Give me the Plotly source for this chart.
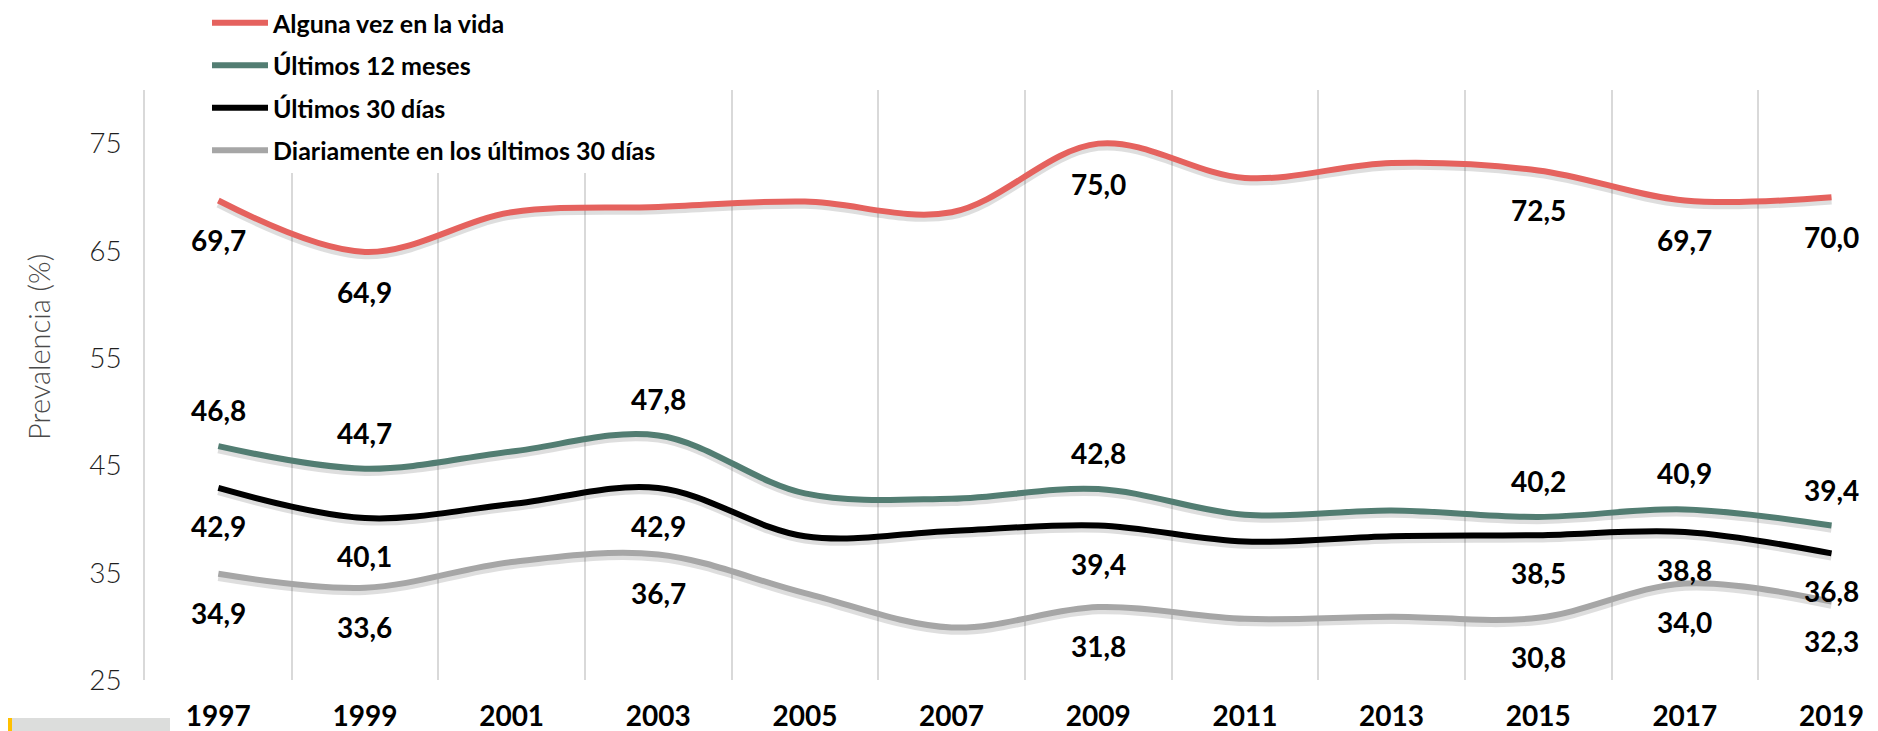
import plotly.graph_objects as go

years = ["1997", "1999", "2001", "2003", "2005", "2007", "2009", "2011", "2013", "2015", "2017", "2019"]
alguna_vez = [69.7, 64.9, 68.6, 69.1, 69.6, 68.6, 75.0, 71.8, 73.2, 72.5, 69.7, 70.0]
ultimos_12 = [46.8, 44.7, 46.3, 47.8, 42.4, 41.9, 42.8, 40.4, 40.8, 40.2, 40.9, 39.4]
ultimos_30 = [42.9, 40.1, 41.4, 42.9, 38.4, 38.9, 39.4, 37.9, 38.4, 38.5, 38.8, 36.8]
diario_30 = [34.9, 33.6, 36.0, 36.7, 33.1, 29.9, 31.8, 30.7, 30.9, 30.8, 34.0, 32.3]

series_names = ["Alguna vez en la vida", "Últimos 12 meses", "Últimos 30 días",
                "Diariamente en los últimos 30 días"]
series_values = [alguna_vez, ultimos_12, ultimos_30, diario_30]
series_colors = ["#E5625E", "#527D72", "#000000", "#A6A6A6"]
labeled_years = [
    ["1997", "1999", "2009", "2015", "2017", "2019"],
    ["1997", "1999", "2003", "2009", "2015", "2017", "2019"],
    ["1997", "1999", "2003", "2009", "2015", "2017", "2019"],
    ["1997", "1999", "2003", "2009", "2015", "2017", "2019"],
]
label_shift = [-40, 36, -38, -39]

FONT = "Lato, 'Open Sans', sans-serif"

# page body has an 8px margin: figure is sized so it fits the 1878x731 window
OFF = 8
W, H = 1878 - OFF, 731 - OFF
L, T = 145 - OFF, 90 - OFF
BOTTOM = 680 - OFF
B = H - BOTTOM
PW, PH = W - L, BOTTOM - T


def px_x(page_x):
    return (page_x - OFF - L) / PW


def px_y(page_y):
    return (BOTTOM - (page_y - OFF)) / PH


fig = go.Figure()

# soft shadows under lines
for vals in series_values:
    fig.add_trace(go.Scatter(
        x=years, y=[v - 0.3 for v in vals], mode="lines",
        line=dict(color="rgba(0,0,0,0.13)", width=8, shape="spline", smoothing=1),
        showlegend=False, hoverinfo="skip"))

for i, (name, vals, col) in enumerate(zip(series_names, series_values, series_colors)):
    fig.add_trace(go.Scatter(
        x=years, y=vals, mode="lines", name=name,
        line=dict(color=col, width=6, shape="spline", smoothing=1),
        legendgroup=f"g{i}"))

annotations = []
for vals, labs, dy in zip(series_values, labeled_years, label_shift):
    for yr in labs:
        idx = years.index(yr)
        v = vals[idx]
        annotations.append(dict(
            x=idx, y=v, xref="x", yref="y", text=f"{v:.1f}".replace(".", ","),
            showarrow=False, yshift=dy, xshift=0,
            font=dict(family=FONT, size=28, color="#000000", weight="bold")))

annotations.append(dict(
    x=px_x(38), y=px_y(347), xref="paper", yref="paper",
    xanchor="center", yanchor="middle",
    text="Prevalencia (%)", showarrow=False, textangle=-90,
    font=dict(family=FONT, size=29, color="#4A4A4A", weight=300)))

fig.update_layout(
    width=W, height=H,
    margin=dict(l=L, r=0, t=T, b=B, autoexpand=False),
    paper_bgcolor="white", plot_bgcolor="white",
    xaxis=dict(type="category", range=[-0.5, 11.317], tickson="boundaries",
               showgrid=True, gridcolor="#D9D9D9", gridwidth=1.5,
               ticks="", ticklabelstandoff=17,
               showline=False, zeroline=False,
               tickfont=dict(family=FONT, size=28, color="#000000", weight="bold")),
    yaxis=dict(range=[25, 80], tickvals=[25, 35, 45, 55, 65, 75],
               showgrid=False, zeroline=False,
               showline=True, linecolor="#D9D9D9", linewidth=1.5,
               ticks="outside", ticklen=16, tickcolor="rgba(0,0,0,0)",
               tickfont=dict(family=FONT, size=28, color="#1F1F1F", weight=300)),
    legend=dict(xref="paper", yref="paper", x=px_x(207), y=px_y(0),
                xanchor="left", yanchor="top", bgcolor="white",
                itemwidth=56, tracegroupgap=7, traceorder="grouped",
                font=dict(family=FONT, size=25, color="#000000", weight="bold")),
    showlegend=True,
    annotations=annotations,
    shapes=[
        dict(type="rect", xref="paper", yref="paper",
             x0=px_x(12), x1=px_x(170), y0=px_y(731), y1=px_y(718),
             fillcolor="#DCDDDC", line=dict(width=0), layer="above"),
        dict(type="rect", xref="paper", yref="paper",
             x0=px_x(0), x1=px_x(12), y0=px_y(731), y1=px_y(718),
             fillcolor="#FFC000", line=dict(width=0), layer="above"),
    ],
)

fig.write_html("out.html")
